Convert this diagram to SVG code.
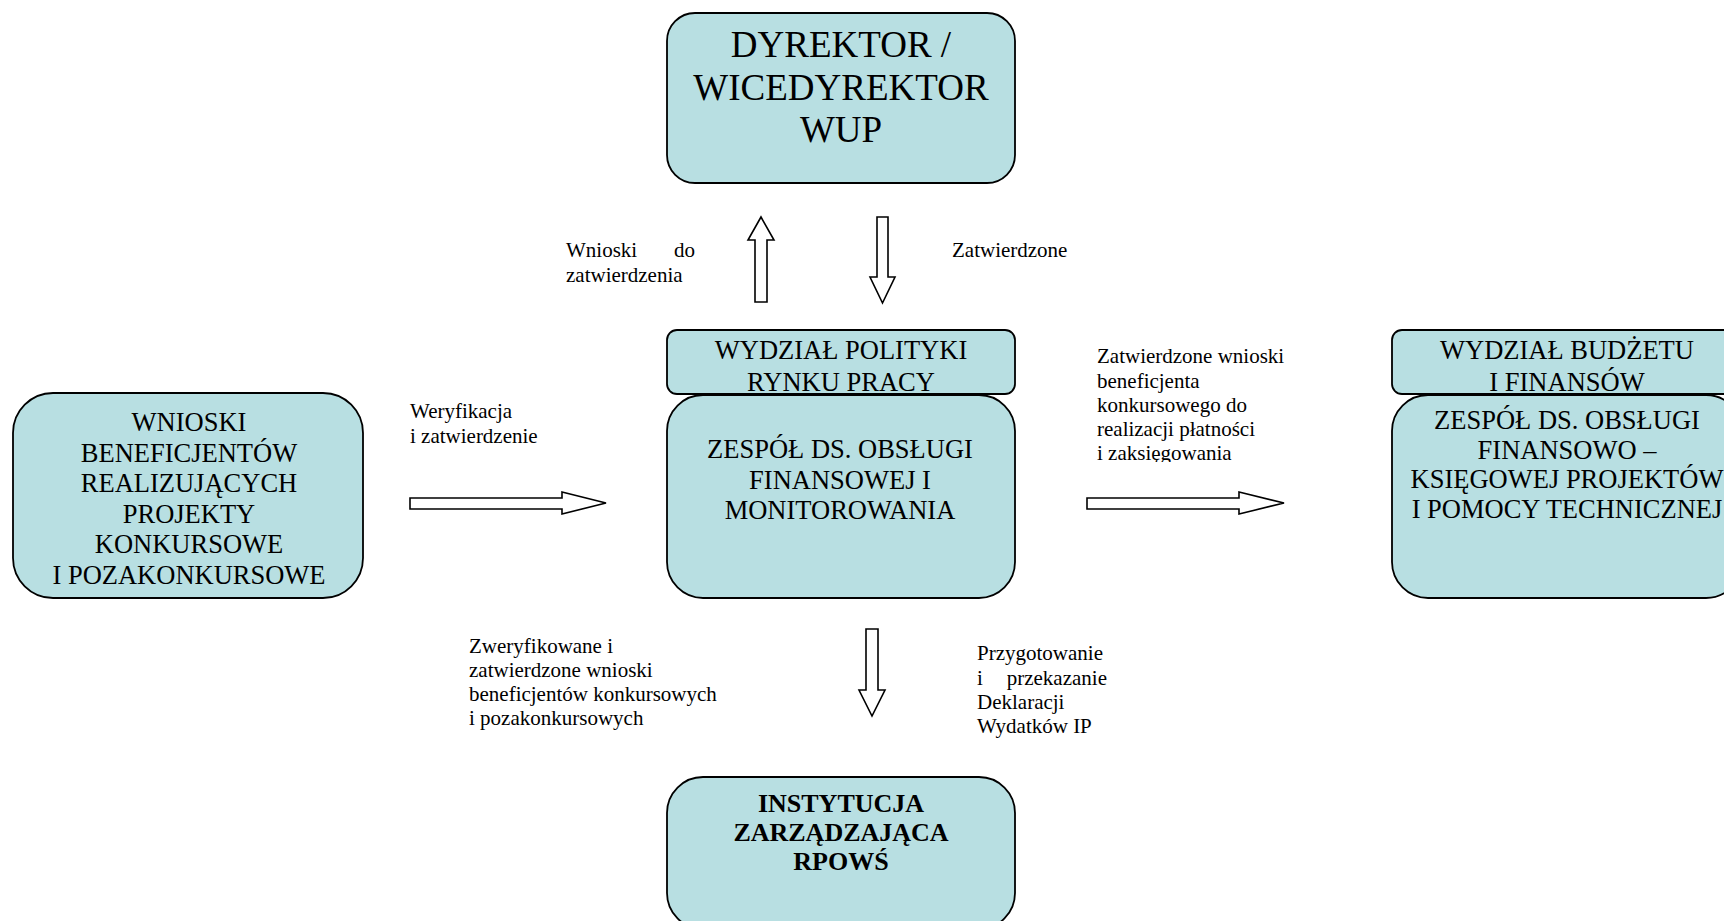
<svg xmlns="http://www.w3.org/2000/svg" width="1724" height="921" viewBox="0 0 1724 921">
<style>
.box{fill:#b8dfe2;stroke:#000;stroke-width:1.8}
.arr{fill:#fff;stroke:#000;stroke-width:1.6;stroke-linejoin:miter}
.bt{font-family:"Liberation Serif","Times New Roman",serif;font-size:26.5px;fill:#000;text-anchor:middle}
.big{font-family:"Liberation Serif","Times New Roman",serif;font-size:37px;fill:#000;text-anchor:middle}
.bold{font-family:"Liberation Serif","Times New Roman",serif;font-size:26px;font-weight:bold;fill:#000;text-anchor:middle}
.lb{font-family:"Liberation Serif","Times New Roman",serif;font-size:21px;fill:#000}
</style>
<defs>
<clipPath id="clipLabel"><rect x="1090" y="330" width="200" height="132"/></clipPath>
</defs>
<rect width="1724" height="921" fill="#fff"/>

<g id="dyrektor">
<rect class="box" x="667" y="13" width="348" height="170" rx="28" ry="28"/>
<text class="big" x="841" y="57">DYREKTOR /</text>
<text class="big" x="841" y="100">WICEDYREKTOR</text>
<text class="big" x="841" y="142">WUP</text>
</g>

<g id="wydzial-polityki">
<rect class="box" x="667" y="330" width="348" height="64" rx="10" ry="10"/>
<text class="bt" x="841" y="359">WYDZIAŁ POLITYKI</text>
<text class="bt" x="841" y="391">RYNKU PRACY</text>
</g>

<g id="zespol-monitorowania">
<rect class="box" x="667" y="395" width="348" height="203" rx="36" ry="36"/>
<text class="bt" x="840" y="458">ZESPÓŁ DS. OBSŁUGI</text>
<text class="bt" x="840" y="489">FINANSOWEJ I</text>
<text class="bt" x="840" y="519">MONITOROWANIA</text>
</g>

<g id="wnioski-beneficjentow">
<rect class="box" x="13" y="393" width="350" height="205" rx="40" ry="40"/>
<text class="bt" x="189" y="431">WNIOSKI</text>
<text class="bt" x="189" y="461.6">BENEFICJENTÓW</text>
<text class="bt" x="189" y="492.2">REALIZUJĄCYCH</text>
<text class="bt" x="189" y="522.8">PROJEKTY</text>
<text class="bt" x="189" y="553.4">KONKURSOWE</text>
<text class="bt" x="189" y="584">I POZAKONKURSOWE</text>
</g>

<g id="wydzial-budzetu">
<rect class="box" x="1392" y="330" width="350" height="64" rx="10" ry="10"/>
<text class="bt" x="1567" y="359">WYDZIAŁ BUDŻETU</text>
<text class="bt" x="1567" y="391">I FINANSÓW</text>
</g>

<g id="zespol-ksiegowej">
<rect class="box" x="1392" y="395" width="350" height="203" rx="36" ry="36"/>
<text class="bt" x="1567" y="429">ZESPÓŁ DS. OBSŁUGI</text>
<text class="bt" x="1567" y="458.5">FINANSOWO –</text>
<text class="bt" x="1567" y="488">KSIĘGOWEJ PROJEKTÓW</text>
<text class="bt" x="1567" y="517.5">I POMOCY TECHNICZNEJ</text>
</g>

<g id="instytucja">
<rect class="box" x="667" y="777" width="348" height="152" rx="36" ry="36"/>
<text class="bold" x="841" y="812">INSTYTUCJA</text>
<text class="bold" x="841" y="841">ZARZĄDZAJĄCA</text>
<text class="bold" x="841" y="870">RPOWŚ</text>
</g>

<g id="connectors">
<polygon class="arr" points="755,302 767,302 767,240 774,240 761,217 748,240 755,240"/>
<polygon class="arr" points="877,217 888,217 888,277 895,277 882.5,303 870,277 877,277"/>
<polygon class="arr" points="410,498 562,498 562,492 606,503 562,514 562,509 410,509"/>
<polygon class="arr" points="1087,498 1239,498 1239,492 1284,503 1239,514 1239,509 1087,509"/>
<polygon class="arr" points="866,629 878,629 878,690 885,690 872,716 859,690 866,690"/>

<text class="lb" x="566" y="257">Wnioski</text>
<text class="lb" x="695" y="257" text-anchor="end">do</text>
<text class="lb" x="566" y="282">zatwierdzenia</text>

<text class="lb" x="952" y="257">Zatwierdzone</text>

<text class="lb" x="410" y="418">Weryfikacja</text>
<text class="lb" x="410" y="443">i zatwierdzenie</text>

<g clip-path="url(#clipLabel)">
<text class="lb" x="1097" y="363.3">Zatwierdzone wnioski</text>
<text class="lb" x="1097" y="387.5">beneficjenta</text>
<text class="lb" x="1097" y="411.7">konkursowego do</text>
<text class="lb" x="1097" y="435.9">realizacji płatności</text>
<text class="lb" x="1097" y="460.1">i zaksięgowania</text>
</g>

<text class="lb" x="469" y="653">Zweryfikowane i</text>
<text class="lb" x="469" y="677">zatwierdzone wnioski</text>
<text class="lb" x="469" y="701">beneficjentów konkursowych</text>
<text class="lb" x="469" y="725">i pozakonkursowych</text>

<text class="lb" x="977" y="660">Przygotowanie</text>
<text class="lb" x="977" y="684.5">i</text>
<text class="lb" x="1107" y="684.5" text-anchor="end">przekazanie</text>
<text class="lb" x="977" y="709">Deklaracji</text>
<text class="lb" x="977" y="733">Wydatków IP</text>
</g>
</svg>
